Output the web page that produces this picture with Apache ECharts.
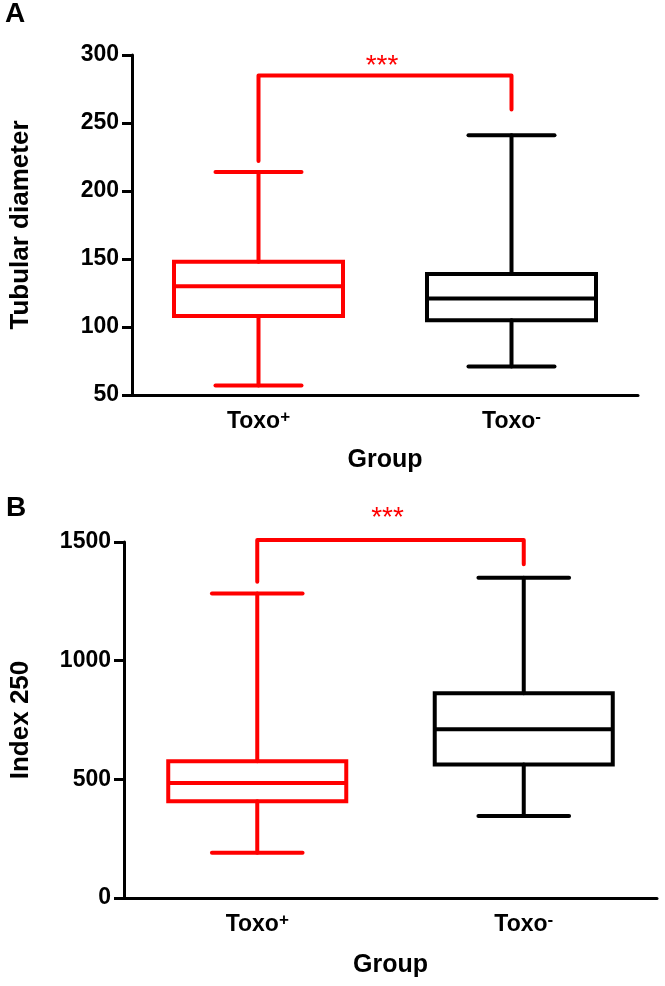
<!DOCTYPE html>
<html>
<head>
<meta charset="utf-8">
<script src="https://cdn.jsdelivr.net/npm/echarts@6/dist/echarts.min.js"></script>
<style>
  html, body { margin: 0; padding: 0; background: #fff; }
  #main { width: 665px; height: 986px; }
</style>
</head>
<body>
<div id="main"></div>
<script>
var myChart = echarts.init(document.getElementById('main'));

var groups = ['Toxo+', 'Toxo-'];
var groupColors = ['#ff0000', '#000000'];

// box values: [min, Q1, median, Q3, max]
var diameterPos = [57, 108, 130, 148, 214];
var diameterNeg = [71, 105, 121, 139, 241];
var indexPos = [191, 408, 485, 576, 1283];
var indexNeg = [345, 563, 711, 863, 1349];

// significance bracket: [left foot, bar, right foot, stars height]
var diameterSig = [222, 285, 260, 296];
var indexSig = [1333, 1508, 1406, 1626];
var sigText = '***';

// axis ranges: [min, max, step]
var diameterAxis = [50, 300, 50];
var indexAxis = [0, 1500, 500];

var font = '"Liberation Sans", Arial, sans-serif';

function boxData(pos, neg) {
	return [[0].concat(pos), [1].concat(neg)];
}

function renderBox(params, api) {
	var cat = api.value(0);
	var pMin = api.coord([cat, api.value(1)]);
	var pQ1 = api.coord([cat, api.value(2)]);
	var pMed = api.coord([cat, api.value(3)]);
	var pQ3 = api.coord([cat, api.value(4)]);
	var pMax = api.coord([cat, api.value(5)]);
	var band = api.size([1, 0])[0];
	var half = band * 0.334;
	var cap = band * 0.17;
	var x = pMed[0];
	var color = groupColors[params.dataIndex];
	var st = { stroke: color, lineWidth: 4, fill: null, lineCap: 'round' };
	return {
		type: 'group',
		children: [
			{ type: 'line', shape: { x1: x, y1: pMin[1], x2: x, y2: pQ1[1] }, style: st },
			{ type: 'line', shape: { x1: x, y1: pQ3[1], x2: x, y2: pMax[1] }, style: st },
			{ type: 'line', shape: { x1: x - cap, y1: pMin[1], x2: x + cap, y2: pMin[1] }, style: st },
			{ type: 'line', shape: { x1: x - cap, y1: pMax[1], x2: x + cap, y2: pMax[1] }, style: st },
			{ type: 'rect', shape: { x: x - half, y: pQ3[1], width: half * 2, height: pQ1[1] - pQ3[1] },
				style: { stroke: color, lineWidth: 4, fill: null } },
			{ type: 'line', shape: { x1: x - half, y1: pMed[1], x2: x + half, y2: pMed[1] },
				style: { stroke: color, lineWidth: 4 } }
		]
	};
}

function renderSig(params, api) {
	var a = api.coord([0, api.value(0)]);
	var b = api.coord([0, api.value(1)]);
	var c = api.coord([1, api.value(1)]);
	var d = api.coord([1, api.value(2)]);
	var s = api.coord([0, api.value(3)]);
	return {
		type: 'group',
		children: [
			{ type: 'polyline', shape: { points: [a, b, c, d] },
				style: { stroke: '#ff0000', lineWidth: 4, fill: null, lineJoin: 'round', lineCap: 'round' } },
			{ type: 'text', x: (b[0] + c[0]) / 2 - 3, y: s[1] + 6,
				style: { text: sigText, fill: '#ff0000', font: 'normal 28px ' + font,
					align: 'center', verticalAlign: 'middle' } }
		]
	};
}

function xAxisOf(gridIndex, gap) {
	return {
		type: 'category',
		gridIndex: gridIndex,
		data: groups,
		boundaryGap: true,
		name: 'Group',
		nameLocation: 'middle',
		nameGap: gap,
		nameTextStyle: { fontFamily: font, fontWeight: 'bold', fontSize: 25, color: '#000' },
		axisLine: { lineStyle: { color: '#000', width: 3 } },
		axisTick: { alignWithLabel: true, length: 10, lineStyle: { color: '#000', width: 3 } },
		axisLabel: {
			margin: 14,
			formatter: function (v) {
				return '{t|' + v.slice(0, 4) + '}{s|' + v.slice(4) + '}';
			},
			rich: {
				t: { fontFamily: font, fontWeight: 'bold', fontSize: 23, color: '#000', lineHeight: 26 },
				s: { fontFamily: font, fontWeight: 'bold', fontSize: 17, color: '#000', lineHeight: 14, verticalAlign: 'top' }
			}
		},
		splitLine: { show: false }
	};
}

function yAxisOf(gridIndex, range, title, gap) {
	return {
		type: 'value',
		gridIndex: gridIndex,
		min: range[0],
		max: range[1],
		interval: range[2],
		name: title,
		nameLocation: 'middle',
		nameGap: gap,
		nameTextStyle: { fontFamily: font, fontWeight: 'bold', fontSize: 26, color: '#000' },
		axisLine: { show: true, lineStyle: { color: '#000', width: 3 } },
		axisTick: { show: true, length: 10, lineStyle: { color: '#000', width: 3 } },
		axisLabel: { margin: 13, fontFamily: font, fontWeight: 'bold', fontSize: 23, color: '#000',
			formatter: function (v) { return String(v); } },
		splitLine: { show: false }
	};
}

var option = {
	animation: false,
	backgroundColor: '#fff',
	graphic: [
		{ type: 'text', left: 5, top: 0, style: { text: 'A', font: 'bold 28px ' + font, fill: '#000' } },
		{ type: 'text', left: 6, top: 494, style: { text: 'B', font: 'bold 28px ' + font, fill: '#000' } }
	],
	grid: [
		{ left: 123, top: 55, width: 515, height: 340 },
		{ left: 123, top: 542, width: 534, height: 356 }
	],
	xAxis: [xAxisOf(0, 53), xAxisOf(1, 55)],
	yAxis: [
		yAxisOf(0, diameterAxis, 'Tubular diameter', 98),
		yAxisOf(1, indexAxis, 'Index 250', 90)
	],
	series: [
		{ type: 'custom', xAxisIndex: 0, yAxisIndex: 0, renderItem: renderBox,
			data: boxData(diameterPos, diameterNeg), clip: false },
		{ type: 'custom', xAxisIndex: 1, yAxisIndex: 1, renderItem: renderBox,
			data: boxData(indexPos, indexNeg), clip: false },
		{ type: 'custom', xAxisIndex: 0, yAxisIndex: 0, renderItem: renderSig,
			data: [diameterSig], clip: false },
		{ type: 'custom', xAxisIndex: 1, yAxisIndex: 1, renderItem: renderSig,
			data: [indexSig], clip: false }
	]
};

myChart.setOption(option);
</script>
</body>
</html>
